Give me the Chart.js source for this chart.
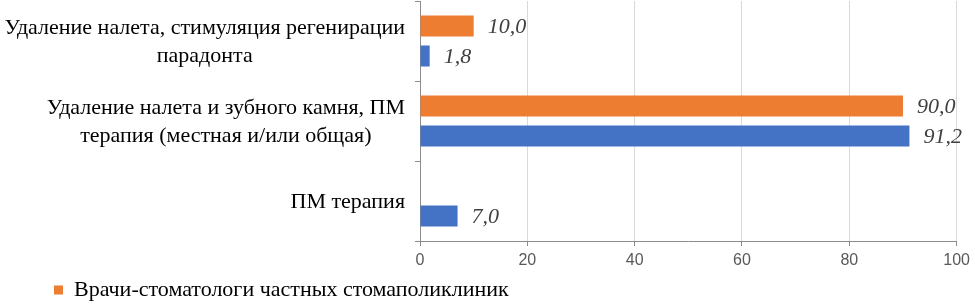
<!DOCTYPE html>
<html>
<head>
<meta charset="utf-8">
<script src="https://cdn.jsdelivr.net/npm/chart.js@4"></script>
<style>
  body { margin: 0; background: #fff; }
  #wrap { width: 975px; height: 306px; position: relative; }
</style>
</head>
<body>
<div id="wrap"><canvas id="chart"></canvas></div>
<script>
// categories, top to bottom (each entry = lines of the label)
const categories = [
    ['Удаление налета, стимуляция регенирации', 'парадонта'],
    ['Удаление налета и зубного камня, ПМ', 'терапия (местная и/или общая)'],
    ['ПМ терапия']
];
const privateDoctors = [10.0, 90.0, null];   // orange
const otherDoctors = [1.8, 91.2, 7.0];        // blue
const seriesNames = ['Врачи-стоматологи частных стомаполиклиник', 'Врачи-стоматологи'];
const xTicks = [0, 20, 40, 60, 80, 100];

const serif = '"Liberation Serif", "Times New Roman", serif';

// draws the multi-line category labels (lines centred, block right aligned)
const categoryLabels = {
    id: 'categoryLabels',
    afterDraw(chart) {
        const ctx = chart.ctx;
        const y = chart.scales.y;
        ctx.save();
        ctx.font = '22px ' + serif;
        ctx.fillStyle = '#000';
        ctx.textAlign = 'center';
        ctx.textBaseline = 'middle';
        categories.forEach((lines, i) => {
            const widths = lines.map(l => ctx.measureText(l).width);
            const maxW = Math.max(...widths);
            const cx = 405 - maxW / 2;
            const cy = y.getPixelForValue(i) + 1;
            const lh = 28;
            lines.forEach((l, j) => {
                ctx.fillText(l, cx, cy + (j - (lines.length - 1) / 2) * lh);
            });
        });
        ctx.restore();
    }
};

// value labels to the right of each bar
const valueLabels = {
    id: 'valueLabels',
    afterDatasetsDraw(chart) {
        const ctx = chart.ctx;
        ctx.save();
        ctx.font = 'italic 22px ' + serif;
        ctx.fillStyle = '#404040';
        ctx.textAlign = 'left';
        ctx.textBaseline = 'middle';
        chart.data.datasets.forEach((ds, di) => {
            const meta = chart.getDatasetMeta(di);
            meta.data.forEach((bar, i) => {
                const v = ds.data[i];
                if (v === null) return;
                ctx.fillText(v.toFixed(1).replace('.', ','), bar.x + 14, bar.y + 1);
            });
        });
        ctx.restore();
    }
};

// move the legend to the right a bit
const legendShift = {
    id: 'legendShift',
    afterLayout(chart) {
        chart.legend.left = 44;
    }
};

const ctx = document.getElementById('chart').getContext('2d');
new Chart(ctx, {
    type: 'bar',
    data: {
        labels: categories.map(c => c.join(' ')),
        datasets: [
            {
                label: seriesNames[0],
                data: privateDoctors,
                backgroundColor: '#ED7D31',
                categoryPercentage: 0.75,
                barPercentage: 0.7
            },
            {
                label: seriesNames[1],
                data: otherDoctors,
                backgroundColor: '#4472C4',
                categoryPercentage: 0.75,
                barPercentage: 0.7
            }
        ]
    },
    options: {
        indexAxis: 'y',
        responsive: true,
        maintainAspectRatio: false,
        animation: false,
        layout: { padding: { top: 1, right: 16, left: 0, bottom: 0 } },
        scales: {
            x: {
                min: 0,
                max: 100,
                afterBuildTicks(scale) {
                    scale.ticks = xTicks.map(v => ({ value: v }));
                },
                afterFit(scale) { scale.height = 28; },
                grid: { color: '#d9d9d9', tickColor: '#8c8c8c', tickLength: 5 },
                border: { color: '#8c8c8c' },
                ticks: {
                    padding: 5,
                    color: '#595959',
                    font: { family: '"Liberation Sans", Arial, sans-serif', size: 16 }
                }
            },
            y: {
                afterFit(scale) { scale.width = 420; },
                grid: {
                    offset: true,
                    drawOnChartArea: false,
                    tickLength: 5,
                    color: '#8c8c8c'
                },
                border: { color: '#8c8c8c' },
                ticks: { display: false }
            }
        },
        plugins: {
            tooltip: { enabled: false },
            legend: {
                position: 'bottom',
                align: 'start',
                maxHeight: 37,
                labels: {
                    filter: item => item.datasetIndex === 0,
                    boxWidth: 9,
                    boxHeight: 9,
                    color: '#000',
                    font: { family: serif, size: 22 }
                }
            }
        }
    },
    plugins: [categoryLabels, valueLabels, legendShift]
});
</script>
</body>
</html>
